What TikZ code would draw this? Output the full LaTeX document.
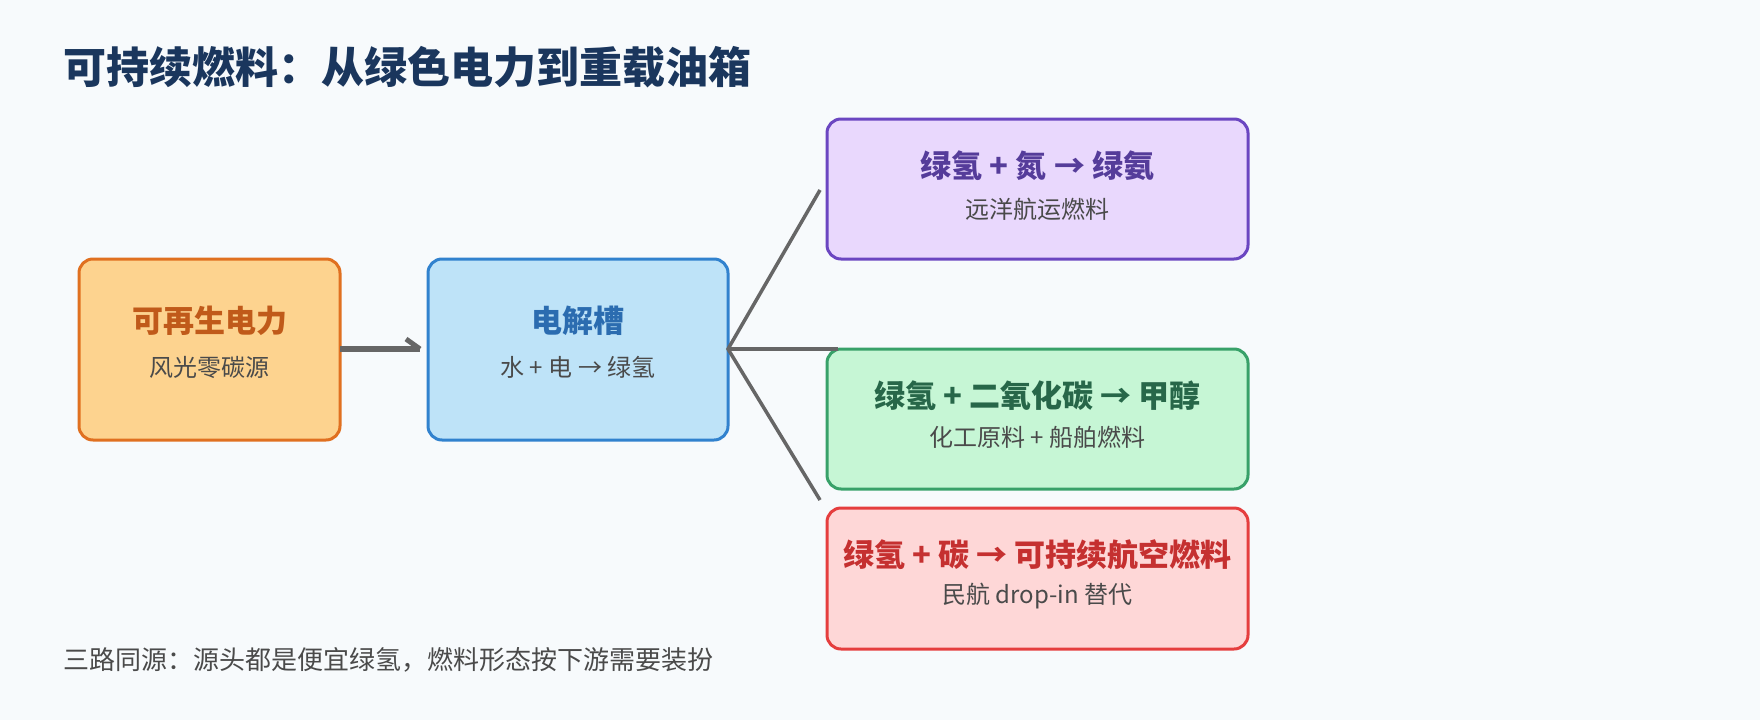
\documentclass[tikz,border=0pt]{standalone}
\usepackage{fontspec}
\setmainfont{Noto Sans CJK SC}
\begin{document}
\begin{tikzpicture}[x=1pt,y=-1pt,
  box/.style={draw,line width=3pt,rounded corners=14pt,inner sep=0pt},
  ttl/.style={font=\bfseries\fontsize{31}{34}\selectfont,anchor=center},
  sub/.style={font=\fontsize{24}{27}\selectfont,text=subc,anchor=center},
  conn/.style={draw=linec,line width=3.5pt}]
\definecolor{bg}{HTML}{F7FAFC}
\definecolor{subc}{HTML}{4A4A4A}
\definecolor{linec}{HTML}{666666}
\definecolor{oF}{HTML}{FDD38F}\definecolor{oS}{HTML}{E07020}\definecolor{oT}{HTML}{C05A1A}
\definecolor{bF}{HTML}{BEE3F8}\definecolor{bS}{HTML}{3182CE}\definecolor{bT}{HTML}{2B6CB0}
\definecolor{pF}{HTML}{E9D8FD}\definecolor{pS}{HTML}{6B46C1}\definecolor{pT}{HTML}{553C9A}
\definecolor{gF}{HTML}{C6F6D5}\definecolor{gS}{HTML}{38A169}\definecolor{gT}{HTML}{276749}
\definecolor{rF}{HTML}{FED7D7}\definecolor{rS}{HTML}{E53E3E}\definecolor{rT}{HTML}{C53030}
\definecolor{hd}{HTML}{1A365D}
\fill[bg] (0,0) rectangle (1760,720);
\useasboundingbox (0,0) rectangle (1760,720);
\node[anchor=west,font=\bfseries\fontsize{43}{48}\selectfont,text=hd] (title) at (60,67) {可持续燃料：从绿色电力到重载油箱};
\path[box,draw=oS,fill=oF] (79,259) rectangle (340,440);
\coordinate (oR) at (340,349);
\node[ttl,text=oT] (o1) at (209.5,321) {可再生电力};
\node[sub] (o2) at (209.5,367) {风光零碳源};
\path[box,draw=bS,fill=bF] (428,259) rectangle (728,440);
\coordinate (bL) at (428,349); \coordinate (bR) at (728,349);
\node[ttl,text=bT] (b1) at (578,321) {电解槽};
\node[sub] (b2) at (578,367) {水 + 电 → 绿氢};
\path[box,draw=pS,fill=pF] (827,119) rectangle (1248,259);
\node[ttl,text=pT] (p1) at (1037.5,166) {绿氢 + 氮 → 绿氨};
\node[sub] (p2) at (1037.5,209) {远洋航运燃料};
\path[box,draw=gS,fill=gF] (827,349) rectangle (1248,489);
\node[ttl,text=gT] (g1) at (1037.5,396) {绿氢 + 二氧化碳 → 甲醇};
\node[sub] (g2) at (1037.5,437) {化工原料 + 船舶燃料};
\path[box,draw=rS,fill=rF] (827,508) rectangle (1248,649);
\node[ttl,text=rT] (r1) at (1037.5,555) {绿氢 + 碳 → 可持续航空燃料};
\node[sub] (r2) at (1037.5,596) {民航 drop-in 替代};
\coordinate (e1) at (820,190); \coordinate (e2) at (838,349); \coordinate (e3) at (820,500);
\draw[conn,line width=6pt] (oR) -- (420,349);
\draw[conn,line width=5pt] (406,339) -- (420,349);
\draw[conn] (e1) -- (bR) -- (e3); \draw[conn] (bR) -- (e2);
\node[anchor=west,font=\fontsize{26}{30}\selectfont,text=subc] (foot) at (60,660) {三路同源：源头都是便宜绿氢，燃料形态按下游需要装扮};
\end{tikzpicture}
\end{document}
